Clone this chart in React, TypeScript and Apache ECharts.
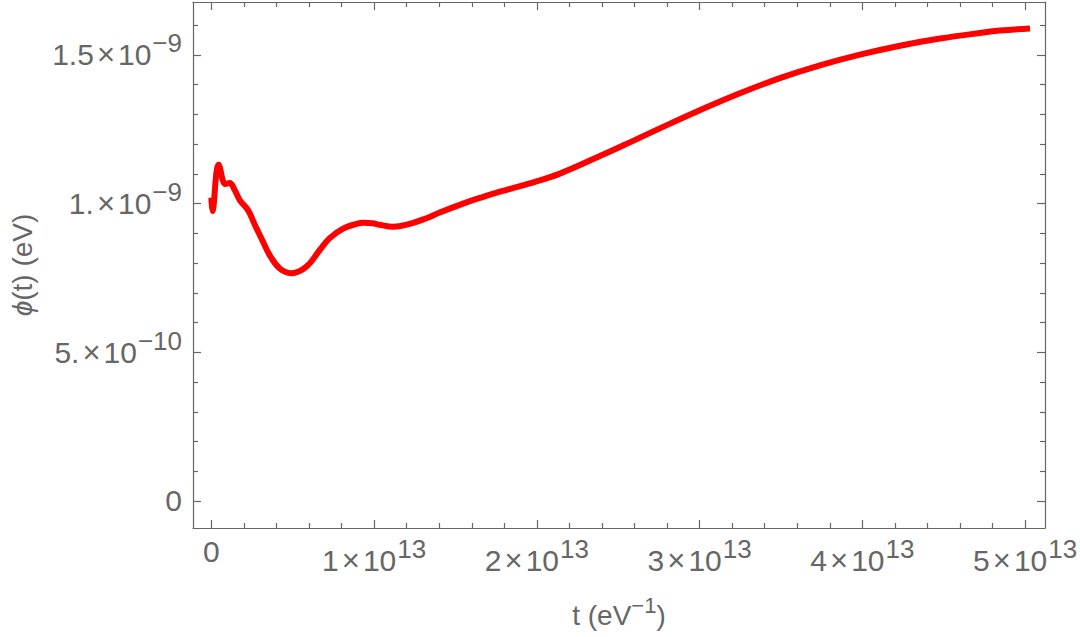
import React, { useEffect, useRef } from "react";
import * as echarts from "echarts";

// t in units of 1e13 eV^-1, phi in units of 1e-9 eV
const tValues = [0, 0.006, 0.045, 0.086, 0.112, 0.143, 0.174, 0.225, 0.266, 0.317, 0.358, 0.42, 0.492, 0.584, 0.666, 0.727, 0.809, 0.891, 0.932, 0.99, 1.034, 1.116, 1.219, 1.321, 1.403, 1.546, 1.649, 1.772, 1.956, 2.141, 2.387, 2.571, 2.755, 3.001, 3.247, 3.493, 3.739, 3.985, 4.231, 4.477, 4.723, 4.845, 5.03];
const phiValues = [1.02, 0.975, 1.131, 1.066, 1.069, 1.046, 1.012, 0.978, 0.93, 0.872, 0.827, 0.782, 0.766, 0.788, 0.844, 0.884, 0.916, 0.932, 0.936, 0.934, 0.929, 0.922, 0.932, 0.951, 0.97, 1.0, 1.019, 1.04, 1.068, 1.101, 1.16, 1.206, 1.253, 1.314, 1.371, 1.422, 1.465, 1.501, 1.531, 1.555, 1.574, 1.582, 1.589];

const xMajorTicks = [0, 1, 2, 3, 4, 5];
const xTickLabels = ["0", "1×10^13", "2×10^13", "3×10^13", "4×10^13", "5×10^13"];
const xMinorTicks = [0.2, 0.4, 0.6, 0.8, 1.2, 1.4, 1.6, 1.8, 2.2, 2.4, 2.6, 2.8, 3.2, 3.4, 3.6, 3.8, 4.2, 4.4, 4.6, 4.8];
const yMajorTicks = [0, 0.5, 1, 1.5];
const yTickLabels = ["0", "5.×10^−10", "1.×10^−9", "1.5×10^−9"];
const yMinorTicks = [0.1, 0.2, 0.3, 0.4, 0.6, 0.7, 0.8, 0.9, 1.1, 1.2, 1.3, 1.4, 1.6];

const X_MIN = -0.113;
const X_MAX = 5.122;
const Y_MIN = -0.0908;
const Y_MAX = 1.678;

const GRAY = "#666666";
const FONT = "Liberation Sans";

function toRich(label: string): string {
  if (label.indexOf("×") < 0) return `{b|${label}}`;
  const [m, rest] = label.split("×");
  const [base, exp] = rest.split("^");
  return `{b|${m}}{x|×}{b|${base}}{s|${exp}}`;
}

const rich = {
  b: { fontSize: 30, color: GRAY, fontFamily: FONT },
  x: { fontSize: 31, color: GRAY, fontFamily: FONT, padding: [0, 3, 0, 3] },
  s: { fontSize: 26, color: GRAY, fontFamily: FONT, padding: [0, 0, 23, 1] },
};

export default function App() {
  const ref = useRef<HTMLDivElement>(null);
  useEffect(() => {
    if (!ref.current) return;
    const chart = echarts.init(ref.current, null, { renderer: "svg" });
    const line = { show: true, onZero: false, lineStyle: { color: GRAY, width: 1.2 } };
    const tickStyle = { color: GRAY, width: 1.2 };
    const common = { type: "value", splitLine: { show: false } };
    chart.setOption({
      animation: false,
      backgroundColor: "#ffffff",
      grid: { left: 193, right: 35, top: 2, bottom: 109, containLabel: false, outerBoundsMode: "none" },
      xAxis: [
        {
          ...common, position: "bottom", min: X_MIN, max: X_MAX,
          axisLine: line,
          axisTick: { show: true, inside: true, length: 8, customValues: xMajorTicks, lineStyle: tickStyle },
          axisLabel: {
            show: true, customValues: xMajorTicks, margin: 8, rich,
            formatter: (v: number) => {
              const i = xMajorTicks.findIndex((t) => Math.abs(t - v) < 1e-9);
              return i >= 0 ? toRich(xTickLabels[i]) : "";
            },
          },
          name: "{n|t (eV}{ns|−1}{n|)}",
          nameLocation: "middle",
          nameGap: 66,
          nameTextStyle: {
            rich: {
              n: { fontSize: 28, color: GRAY, fontFamily: FONT },
              ns: { fontSize: 22, color: GRAY, fontFamily: FONT, padding: [0, 0, 20, 0] },
            },
          },
        },
        {
          ...common, position: "bottom", min: X_MIN, max: X_MAX,
          axisLine: { show: false, onZero: false },
          axisTick: { show: true, inside: true, length: 5, customValues: xMinorTicks, lineStyle: tickStyle },
          axisLabel: { show: false },
        },
        {
          ...common, position: "top", min: X_MIN, max: X_MAX,
          axisLine: line,
          axisTick: { show: true, inside: true, length: 8, customValues: xMajorTicks, lineStyle: tickStyle },
          axisLabel: { show: false },
        },
        {
          ...common, position: "top", min: X_MIN, max: X_MAX,
          axisLine: { show: false, onZero: false },
          axisTick: { show: true, inside: true, length: 5, customValues: xMinorTicks, lineStyle: tickStyle },
          axisLabel: { show: false },
        },
      ],
      yAxis: [
        {
          ...common, position: "left", min: Y_MIN, max: Y_MAX,
          axisLine: line,
          axisTick: { show: true, inside: true, length: 8, customValues: yMajorTicks, lineStyle: tickStyle },
          axisLabel: {
            show: true, customValues: yMajorTicks, margin: 11, rich,
            formatter: (v: number) => {
              const i = yMajorTicks.findIndex((t) => Math.abs(t - v) < 1e-9);
              return i >= 0 ? toRich(yTickLabels[i]) : "";
            },
          },
          name: "{p|ϕ}{n|(t) (eV)}",
          nameLocation: "middle",
          nameGap: 157,
          nameTextStyle: {
            rich: {
              p: { fontSize: 28, color: GRAY, fontFamily: FONT, fontStyle: "italic" },
              n: { fontSize: 28, color: GRAY, fontFamily: FONT },
            },
          },
        },
        {
          ...common, position: "left", min: Y_MIN, max: Y_MAX,
          axisLine: { show: false, onZero: false },
          axisTick: { show: true, inside: true, length: 5, customValues: yMinorTicks, lineStyle: tickStyle },
          axisLabel: { show: false },
        },
        {
          ...common, position: "right", min: Y_MIN, max: Y_MAX,
          axisLine: line,
          axisTick: { show: true, inside: true, length: 8, customValues: yMajorTicks, lineStyle: tickStyle },
          axisLabel: { show: false },
        },
        {
          ...common, position: "right", min: Y_MIN, max: Y_MAX,
          axisLine: { show: false, onZero: false },
          axisTick: { show: true, inside: true, length: 5, customValues: yMinorTicks, lineStyle: tickStyle },
          axisLabel: { show: false },
        },
      ],
      series: [
        {
          type: "line",
          xAxisIndex: 0,
          yAxisIndex: 0,
          data: tValues.map((t, i) => [t, phiValues[i]]),
          showSymbol: false,
          smooth: 0.4,
          lineStyle: { color: "#ff0000", width: 6 },
          silent: true,
        },
      ],
    });
    return () => chart.dispose();
  }, []);
  return <div ref={ref} style={{ position: "fixed", left: 0, top: 0, width: 1080, height: 637 }} />;
}
